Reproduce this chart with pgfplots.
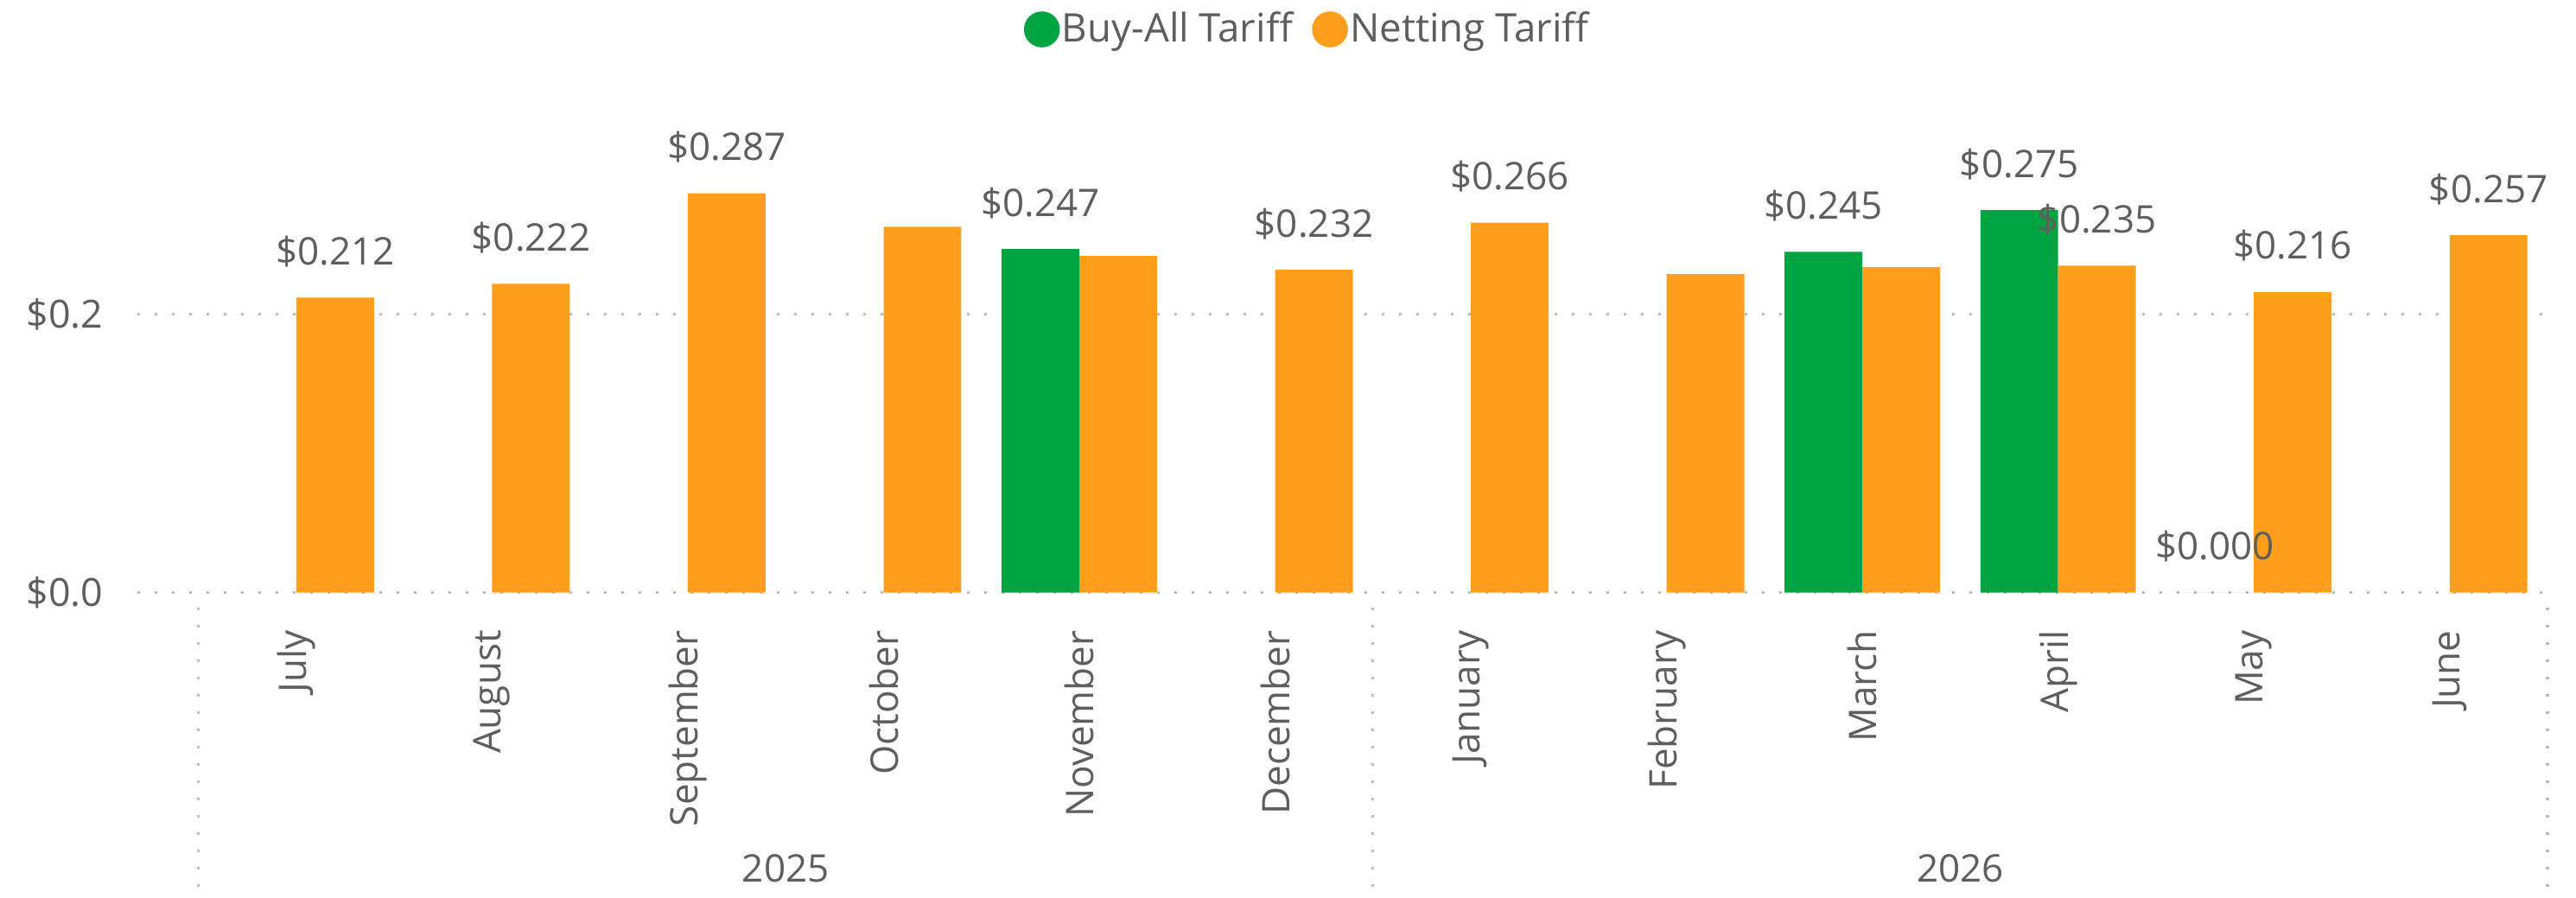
\documentclass[border=0pt]{standalone}
\usepackage{fontspec}
\setmainfont{Open Sans}
\usepackage{pgfplots}
\pgfplotsset{compat=1.18}
\definecolor{buyall}{HTML}{00A443}
\definecolor{netting}{HTML}{FF9E1B}
\definecolor{txt}{HTML}{605E5C}
\definecolor{grd}{HTML}{BEBCBA}
\begin{document}
\begin{tikzpicture}[font=\fontsize{11}{13}\selectfont]
\path[use as bounding box] (-39.75pt,-88.35pt) rectangle (705.5pt,171.4pt);
\begin{axis}[
  at={(0pt,0pt)}, anchor=south west,
  width=697.25pt, height=120.7pt, scale only axis,
  ybar=0pt, bar width=0.397,
  xmin=-0.812, xmax=11.5, ymin=0, ymax=0.3,
  axis line style={draw=none},
  major tick style={draw=none},
  xtick={0,...,11},
  xticklabels={July,August,September,October,November,December,January,February,March,April,May,June},
  xticklabel style={rotate=90, anchor=east, inner sep=0pt, text=txt, font=\fontsize{11}{13}\selectfont},
  xticklabel shift=6.5pt,
  ytick={0,0.2}, yticklabels={\$0.0,\$0.2},
  yticklabel style={anchor=east, inner sep=0pt, text=txt, font=\fontsize{11.2}{13}\selectfont},
  yticklabel shift=9.75pt,
  ymajorgrids,
  major grid style={grd, line width=0.8pt, dash pattern=on 0.8pt off 4.2pt},
  clip=false,
  point meta=explicit symbolic,
  legend columns=2,
  legend style={at={(0.4855,1)}, anchor=center, yshift=42.2pt, draw=none, fill=none,
    font=\fontsize{11.4}{13}\selectfont, text=txt, inner sep=0pt,
    nodes={inner sep=0.6pt},
    /tikz/every even column/.append style={column sep=5pt}},
]
\addplot[fill=buyall, draw=none,
  legend image code/.code={\fill[buyall] (5.2pt,0pt) circle (5.2pt);},
  nodes near coords,
  every node near coord/.append style={text=txt, font=\fontsize{11}{13}\selectfont, anchor=base, yshift=9.5pt, inner sep=0pt}]
  coordinates {(4,0.247) [\$0.247] (8,0.245) [\$0.245] (9,0.275) [\$0.275] (10,0.000) [\$0.000]};
\addlegendentry{Buy-All Tariff}
\addplot[fill=netting, draw=none,
  legend image code/.code={\fill[netting] (5.2pt,0pt) circle (5.2pt);},
  nodes near coords,
  every node near coord/.append style={text=txt, font=\fontsize{11}{13}\selectfont, anchor=base, yshift=9.5pt, inner sep=0pt}]
  coordinates {(0,0.212) [\$0.212] (1,0.222) [\$0.222] (2,0.287) [\$0.287] (3,0.263) [] (4,0.242) [] (5,0.232) [\$0.232] (6,0.266) [\$0.266] (7,0.229) [] (8,0.234) [] (9,0.235) [\$0.235] (10,0.216) [\$0.216] (11,0.257) [\$0.257]};
\addlegendentry{Netting Tariff}
\foreach \xs in {-0.5,5.5,11.5} {
  \edef\tmp{\noexpand\draw[grd, line width=0.8pt, dash pattern=on 0.8pt off 4.2pt] ([yshift=-4.35pt]axis cs:\xs,0) -- ([yshift=-88.35pt]axis cs:\xs,0);}
  \tmp
}
\node[text=txt] at ([yshift=-79.85pt]axis cs:2.5,0) {2025};
\node[text=txt] at ([yshift=-79.85pt]axis cs:8.5,0) {2026};
\end{axis}
\end{tikzpicture}
\end{document}
